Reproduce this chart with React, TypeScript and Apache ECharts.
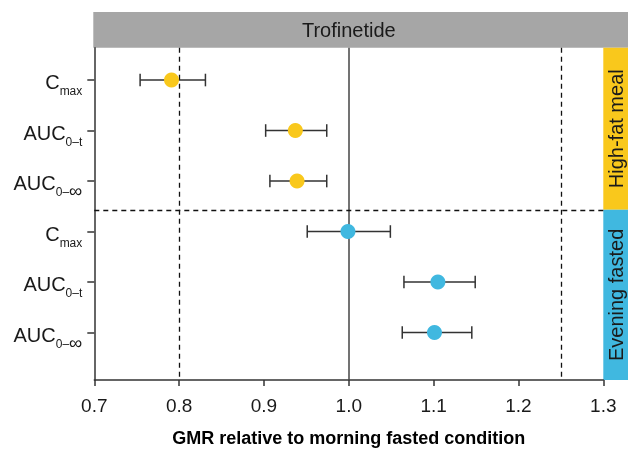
import React, { useEffect, useRef } from "react";
import * as echarts from "echarts";

// ---- data ----
const rowLabels = [
  "{m|C}{s|max}",
  "{m|AUC}{s|0–t}",
  "{m|AUC}{s|0–}{i|∞}",
  "{m|C}{s|max}",
  "{m|AUC}{s|0–t}",
  "{m|AUC}{s|0–}{i|∞}",
];
const rowIndex = [0, 1, 2, 3, 4, 5];
const groupOfRow = [0, 0, 0, 1, 1, 1];
const conditions = ["High-fat meal", "Evening fasted"];
const gmr = [0.791, 0.937, 0.939, 0.999, 1.105, 1.101];
const lower = [0.754, 0.902, 0.907, 0.951, 1.065, 1.063];
const upper = [0.831, 0.974, 0.974, 1.049, 1.149, 1.145];
const refDashed = [0.8, 1.25];
const refSolid = [1.0];
const divider = 2.57;
const panelTitle = "Trofinetide";
const xTitle = "GMR relative to morning fasted condition";
const xMin = 0.7;
const xMax = 1.3;
const xStep = 0.1;

// ---- style ----
const groupColors = ["#F9C81C", "#40B8E0"];
const stripGray = "#A6A6A6";
const FONT = "'Liberation Sans', Arial, Helvetica, sans-serif";
const W = 628;
const H = 451;
const G = { left: 94.3, right: 24.7, top: 47.7, bottom: 71 };

export default function App() {
  const ref = useRef<HTMLDivElement>(null);
  useEffect(() => {
    document.body.style.margin = "0";
    const chart = echarts.init(ref.current!, null, { renderer: "svg", width: W, height: H });
    const scatterSeries = conditions.map((c, g) => ({
      type: "scatter",
      name: c,
      symbolSize: 15,
      itemStyle: { color: groupColors[g], opacity: 1 },
      z: 5,
      data: rowIndex.filter((i) => groupOfRow[i] === g).map((i) => [gmr[i], i]),
    }));
    const option: any = {
      animation: false,
      grid: { ...G, containLabel: false, outerBoundsMode: "none" },
      xAxis: {
        type: "value",
        min: xMin,
        max: xMax,
        interval: xStep,
        axisLine: { show: true, onZero: false, lineStyle: { color: "#333", width: 1.5 } },
        axisTick: { show: true, length: 6, lineStyle: { color: "#333", width: 1.5 } },
        splitLine: { show: false },
        axisLabel: {
          margin: 16,
          fontSize: 19,
          fontFamily: FONT,
          color: "#1a1a1a",
          formatter: (v: number) => v.toFixed(1),
        },
        name: xTitle,
        nameLocation: "middle",
        nameGap: 49,
        nameTextStyle: { fontSize: 18, fontWeight: "bold", fontFamily: FONT, color: "#000" },
      },
      yAxis: {
        type: "value",
        inverse: true,
        min: -0.64,
        max: 5.94,
        axisLine: { show: true, onZero: false, lineStyle: { color: "#333", width: 1.5 } },
        axisTick: { show: true, length: 7, customValues: rowIndex, lineStyle: { color: "#333", width: 1.5 } },
        splitLine: { show: false },
        axisLabel: {
          customValues: rowIndex,
          margin: 12,
          formatter: (v: number) => rowLabels[Math.round(v)] ?? "",
          rich: {
            m: { fontSize: 20, fontFamily: FONT, color: "#1a1a1a", lineHeight: 20, padding: [4, 0, 0, 0] },
            s: { fontSize: 12, fontFamily: FONT, color: "#1a1a1a", lineHeight: 20, padding: [22, 0, 0, 0] },
            i: { fontSize: 18.5, fontFamily: FONT, color: "#1a1a1a", lineHeight: 20, padding: [19, 0, 0, 0] },
          },
        },
      },
      series: [
        {
          type: "custom",
          z: 3,
          data: rowIndex.map((i) => [lower[i], upper[i], i]),
          renderItem: (params: any, api: any) => {
            const y = api.value(2);
            const p1 = api.coord([api.value(0), y]);
            const p2 = api.coord([api.value(1), y]);
            const h = 6.3;
            const st = { stroke: "#333", lineWidth: 1.5 };
            return {
              type: "group",
              children: [
                { type: "line", shape: { x1: p1[0], y1: p1[1], x2: p2[0], y2: p2[1] }, style: st },
                { type: "line", shape: { x1: p1[0], y1: p1[1] - h, x2: p1[0], y2: p1[1] + h }, style: st },
                { type: "line", shape: { x1: p2[0], y1: p2[1] - h, x2: p2[0], y2: p2[1] + h }, style: st },
              ],
            };
          },
          markLine: {
            silent: true,
            symbol: "none",
            label: { show: false },
            data: [
              ...refDashed.map((v) => ({ xAxis: v, lineStyle: { type: [5, 4], color: "#111", width: 1.3 } })),
              ...refSolid.map((v) => ({ xAxis: v, lineStyle: { type: "solid", color: "#444", width: 1.5 } })),
              { yAxis: divider, lineStyle: { type: [5, 4], color: "#111", width: 1.3 } },
            ],
          },
        },
        ...scatterSeries,
      ],
    };
    chart.setOption(option);

    const gx0 = G.left;
    const gx1 = W - G.right;
    const gy0 = G.top;
    const gy1 = H - G.bottom;
    const yDiv = chart.convertToPixel({ yAxisIndex: 0 }, divider) as number;
    chart.setOption({
      graphic: [
        { type: "rect", shape: { x: gx0 - 1, y: 12, width: W - gx0 + 1, height: gy0 - 12 }, style: { fill: stripGray } },
        {
          type: "text",
          x: (gx0 + gx1) / 2,
          y: (12 + gy0) / 2,
          style: { text: panelTitle, fontSize: 20, fontFamily: FONT, fill: "#1a1a1a", align: "center", verticalAlign: "middle" },
        },
        { type: "rect", shape: { x: gx1, y: gy0, width: W - gx1, height: yDiv - gy0 }, style: { fill: groupColors[0] } },
        { type: "rect", shape: { x: gx1, y: yDiv, width: W - gx1, height: gy1 - yDiv }, style: { fill: groupColors[1] } },
        {
          type: "text",
          x: (gx1 + W) / 2,
          y: (gy0 + yDiv) / 2,
          rotation: Math.PI / 2,
          style: { text: conditions[0], fontSize: 20, fontFamily: FONT, fill: "#1a1a1a", align: "center", verticalAlign: "middle" },
        },
        {
          type: "text",
          x: (gx1 + W) / 2,
          y: (yDiv + gy1) / 2,
          rotation: Math.PI / 2,
          style: { text: conditions[1], fontSize: 20, fontFamily: FONT, fill: "#1a1a1a", align: "center", verticalAlign: "middle" },
        },
      ],
    });
    return () => chart.dispose();
  }, []);
  return <div ref={ref} style={{ position: "fixed", left: 0, top: 0, width: W, height: H }} />;
}
